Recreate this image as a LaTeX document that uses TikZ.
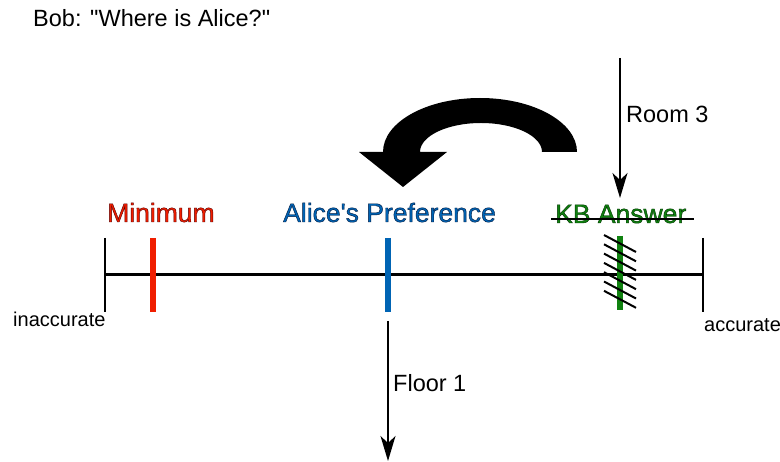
\documentclass[tikz,border=0pt]{standalone}
\usepackage{fontspec}
\setmainfont{Liberation Sans}[Ligatures=TeXOff]
\newfontfamily\lblfont{Liberation Sans}[Ligatures=TeXOff,FakeBold=1.6]
\usetikzlibrary{arrows.meta}
\definecolor{minred}{RGB}{240,30,0}
\definecolor{prefblue}{RGB}{0,100,180}
\definecolor{kbgreen}{RGB}{16,130,16}
\newcommand\strokergb[1]{\special{pdf:code #1 RG}}
\begin{document}
\begin{tikzpicture}[x=1pt,y=1pt,
  txt/.style={inner sep=0pt,anchor=base west,font=\fontsize{23.5}{28}\selectfont},
  smalltxt/.style={inner sep=0pt,anchor=base west,font=\fontsize{20}{24}\selectfont},
  lbl/.style={inner sep=0pt,anchor=base west,font=\lblfont\fontsize{26.5}{30}\selectfont},
  axisline/.style={line width=3pt},
  endtick/.style={line width=1.5pt},
  bar/.style={line width=6.5pt},
  hatch/.style={line width=2pt},
  downarrow/.style={line width=1.3pt,-{Stealth[length=25pt,width=15pt,inset=7pt]}}]
\useasboundingbox (0,0) rectangle (780,-462);
% texts
\node[txt] (bob) at (33,-27) {Bob: "Where is Alice?"};
\node[smalltxt] (inacc) at (13,-327) {inaccurate};
\node[smalltxt] (acc) at (704,-332) {accurate};
\node[lbl,text=minred] (minlbl) at (107,-222) {\strokergb{0.35 0 0}Minimum};
\node[lbl,text=prefblue] (preflbl) at (283,-222) {\strokergb{0 0.1 0.25}Alice's Preference};
\node[lbl,text=kbgreen] (kblbl) at (555,-223) {\strokergb{0 0.2 0}KB Answer};
\node[txt] (room) at (626,-123) {Room 3};
\node[txt] (floor) at (393,-392) {Floor 1};
% axis
\coordinate (L) at (105,-275);
\coordinate (R) at (703,-275);
\draw[axisline] (L) -- (R);
\draw[endtick] (105,-238) coordinate (Lt) -- (105,-312) coordinate (Lb);
\draw[endtick] (703,-238) coordinate (Rt) -- (703,-312) coordinate (Rb);
% bars
\draw[bar,minred] (153,-238) coordinate (mt) -- (153,-312) coordinate (mb);
\draw[bar,prefblue] (388,-238) coordinate (pt) -- (388,-312) coordinate (pb);
\draw[bar,kbgreen] (620,-236) coordinate (kt) -- (620,-310) coordinate (kb);
% hatching over KB bar
\foreach \y in {235,244.3,253.6,262.9,272.2,281.5,290.8}{
  \draw[hatch] (604,-\y) -- (636,-\y-17);
}
% strike-through of KB Answer
\draw[line width=2pt] (551,-219) coordinate (s1) -- (694,-219) coordinate (s2);
% arrows
\coordinate (roomtop) at (620,-58);
\coordinate (roomtip) at (620,-198);
\draw[downarrow] (roomtop) -- (roomtip);
\coordinate (floortop) at (388,-321);
\coordinate (floortip) at (388,-461);
\draw[downarrow] (floortop) -- (floortip);
% big curved arrow
\fill (383,-152) arc[start angle=180,end angle=0,x radius=97pt,y radius=54pt]
  -- (542,-152) arc[start angle=0,end angle=180,x radius=61pt,y radius=29pt]
  -- (447,-152) -- (403,-187) -- (359,-152) -- cycle;
\end{tikzpicture}
\end{document}
